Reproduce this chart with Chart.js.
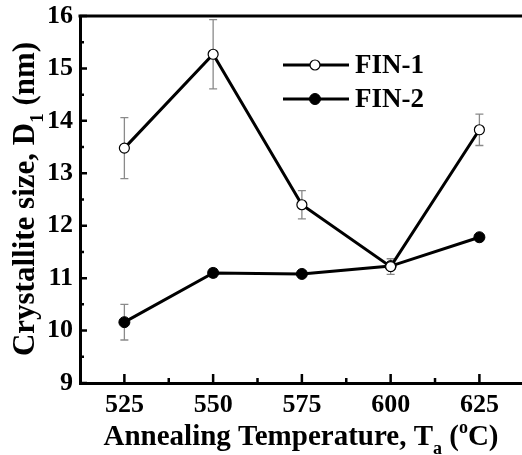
<!DOCTYPE html>
<html>
<head>
<meta charset="utf-8">
<script src="https://cdn.jsdelivr.net/npm/chart.js@4/dist/chart.umd.min.js"></script>
<style>
  html, body { margin: 0; padding: 0; background: #fff; overflow: hidden; }
  #chart { display: block; }
</style>
</head>
<body>
<canvas id="chart" width="522" height="455"></canvas>
<script>
// annealing temperatures (°C)
const temps = [525, 550, 575, 600, 625];
const seriesNames = ["FIN-1", "FIN-2"];
// crystallite size D1 (nm) and error bars
const fin1 = [13.48, 15.27, 12.40, 11.22, 13.83];
const fin1Err = [0.58, 0.66, 0.27, 0.15, 0.30];
const fin2 = [10.16, 11.10, 11.08, 11.23, 11.78];
const fin2Err = [0.34, 0.08, 0.03, 0.03, 0.03];

const xTicks = [525, 550, 575, 600, 625];
const xMinorTicks = [537.5, 562.5, 587.5, 612.5];
const yTicks = [9, 10, 11, 12, 13, 14, 15, 16];
const yMinorTicks = [9.5, 10.5, 11.5, 12.5, 13.5, 14.5, 15.5];

const xTitle = [{ t: "Annealing Temperature, T" }, { t: "a", sub: true }, { t: " (" }, { t: "o", sup: true }, { t: "C)" }];
const yTitle = [{ t: "Crystallite size, D" }, { t: "1", sub: true }, { t: " (nm)" }];

const SERIF = "'Liberation Serif', 'Times New Roman', serif";

function drawRich(ctx, parts, cx, baseY, size) {
    const font = p => "bold " + (p.sub || p.sup ? Math.round(size * 0.62) : size) + "px " + SERIF;
    let total = 0;
    parts.forEach(p => { ctx.font = font(p); total += ctx.measureText(p.t).width; });
    let x = cx - total / 2;
    ctx.textAlign = "left";
    ctx.textBaseline = "alphabetic";
    parts.forEach(p => {
        ctx.font = font(p);
        let dy = 0;
        if (p.sub) dy = size * 0.3;
        if (p.sup) dy = -size * 0.42;
        ctx.fillText(p.t, x, baseY + dy);
        x += ctx.measureText(p.t).width;
    });
}

const decorPlugin = {
    id: "decor",
    beforeDatasetsDraw(chart) {
        // error bars behind the markers
        const ctx = chart.ctx;
        const xs = chart.scales.x, ys = chart.scales.y;
        const sets = [[fin1, fin1Err], [fin2, fin2Err]];
        ctx.save();
        ctx.strokeStyle = "#8a8a8a";
        ctx.lineWidth = 1.3;
        sets.forEach(([vals, errs]) => {
            vals.forEach((v, i) => {
                const px = xs.getPixelForValue(temps[i]);
                const top = ys.getPixelForValue(v + errs[i]);
                const bot = ys.getPixelForValue(v - errs[i]);
                ctx.beginPath();
                ctx.moveTo(px, top); ctx.lineTo(px, bot);
                ctx.moveTo(px - 4, top); ctx.lineTo(px + 4, top);
                ctx.moveTo(px - 4, bot); ctx.lineTo(px + 4, bot);
                ctx.stroke();
            });
        });
        ctx.restore();
    },
    afterDraw(chart) {
        const ctx = chart.ctx;
        const area = chart.chartArea;
        const xs = chart.scales.x, ys = chart.scales.y;
        ctx.save();
        ctx.strokeStyle = "#000";
        // top frame line
        ctx.lineWidth = 3;
        ctx.beginPath();
        ctx.moveTo(area.left - 1.5, area.top);
        ctx.lineTo(area.right, area.top);
        ctx.stroke();
        // inward ticks
        ctx.lineWidth = 2.5;
        ctx.beginPath();
        xTicks.forEach(v => { const p = xs.getPixelForValue(v); ctx.moveTo(p, area.bottom); ctx.lineTo(p, area.bottom - 9); });
        xMinorTicks.forEach(v => { const p = xs.getPixelForValue(v); ctx.moveTo(p, area.bottom); ctx.lineTo(p, area.bottom - 5); });
        yTicks.forEach(v => { const p = ys.getPixelForValue(v); ctx.moveTo(area.left, p); ctx.lineTo(area.left + 7, p); });
        yMinorTicks.forEach(v => { const p = ys.getPixelForValue(v); ctx.moveTo(area.left, p); ctx.lineTo(area.left + 4, p); });
        ctx.stroke();

        // axis titles
        ctx.fillStyle = "#000";
        drawRich(ctx, xTitle, 301, 445, 29);
        ctx.save();
        ctx.translate(34, 199);
        ctx.rotate(-Math.PI / 2);
        drawRich(ctx, yTitle, 0, 0, 31);
        ctx.restore();

        // legend
        const legendY = [65, 99];
        chart.data.datasets.forEach((ds, i) => {
            const y = legendY[i];
            ctx.lineWidth = 3;
            ctx.strokeStyle = "#000";
            ctx.beginPath();
            ctx.moveTo(283, y); ctx.lineTo(349, y);
            ctx.stroke();
            ctx.beginPath();
            ctx.arc(315, y, ds.pointRadius, 0, Math.PI * 2);
            ctx.fillStyle = ds.pointBackgroundColor;
            ctx.fill();
            ctx.lineWidth = ds.pointBorderWidth;
            ctx.stroke();
            ctx.fillStyle = "#000";
            ctx.font = "bold 27px " + SERIF;
            ctx.textAlign = "left";
            ctx.textBaseline = "middle";
            ctx.fillText(ds.label, 355, y + 1);
        });
        ctx.restore();
    }
};

new Chart(document.getElementById("chart"), {
    type: "line",
    data: {
        datasets: [
            {
                label: seriesNames[0],
                data: temps.map((t, i) => ({ x: t, y: fin1[i] })),
                borderColor: "#000",
                borderWidth: 3,
                pointRadius: 5,
                pointBackgroundColor: "#fff",
                pointBorderColor: "#000",
                pointBorderWidth: 1.2,
                tension: 0
            },
            {
                label: seriesNames[1],
                data: temps.map((t, i) => ({ x: t, y: fin2[i] })),
                borderColor: "#000",
                borderWidth: 3,
                pointRadius: 5.5,
                pointBackgroundColor: "#000",
                pointBorderColor: "#000",
                pointBorderWidth: 1,
                tension: 0
            }
        ]
    },
    options: {
        responsive: false,
        animation: false,
        layout: { autoPadding: false, padding: { top: 16, right: 0, left: 0, bottom: 0 } },
        plugins: { legend: { display: false }, tooltip: { enabled: false } },
        scales: {
            x: {
                type: "linear",
                min: 512.5,
                max: 637,
                afterBuildTicks: s => { s.ticks = xTicks.map(v => ({ value: v })); },
                afterFit: s => { s.height = 72; s.paddingLeft = 0; s.paddingRight = 0; },
                grid: { display: false, drawTicks: false },
                border: { display: true, color: "#000", width: 3 },
                ticks: { color: "#000", padding: 7, maxRotation: 0, font: { family: SERIF, size: 26, weight: "bold" } }
            },
            y: {
                min: 9,
                max: 16,
                afterBuildTicks: s => { s.ticks = yTicks.map(v => ({ value: v })); },
                afterFit: s => { s.width = 80; s.paddingTop = 0; s.paddingBottom = 0; },
                grid: { display: false, drawTicks: false },
                border: { display: true, color: "#000", width: 3 },
                ticks: { color: "#000", padding: 7, font: { family: SERIF, size: 26, weight: "bold" } }
            }
        }
    },
    plugins: [decorPlugin]
});
</script>
</body>
</html>
